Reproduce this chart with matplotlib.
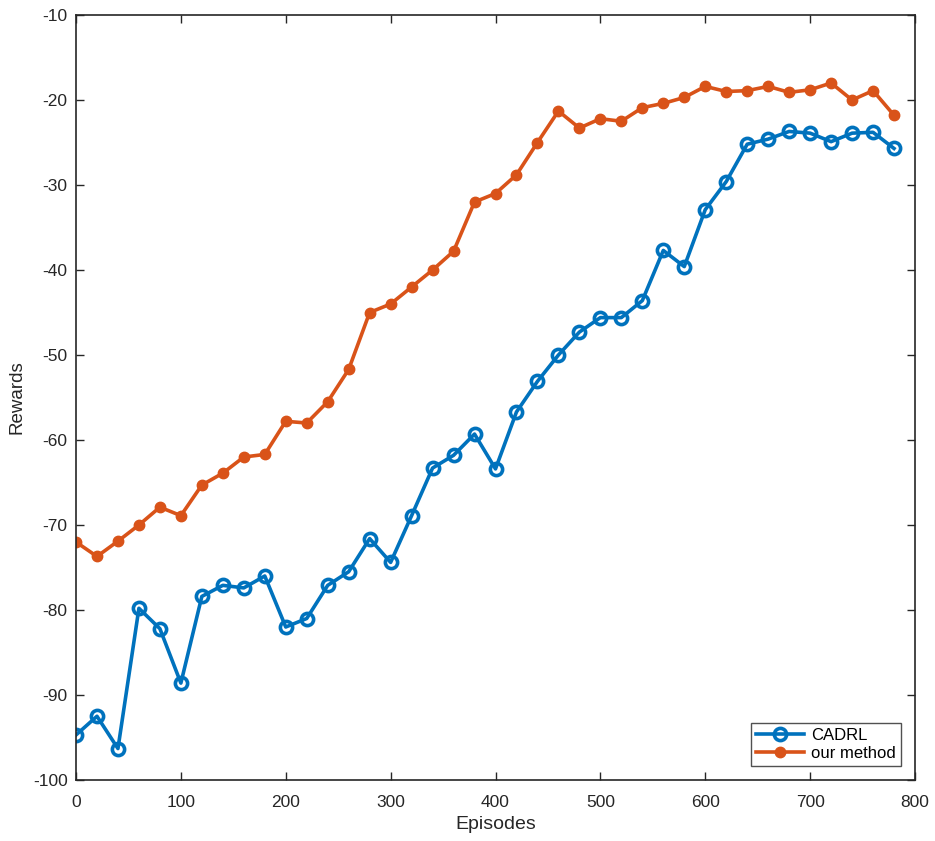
import numpy as np
import matplotlib
matplotlib.use('Agg')
from matplotlib import pyplot as plt

episodes = list(range(0, 800, 20))
cadrl = [-94.7, -92.5, -96.3, -79.8, -82.2, -88.6, -78.4, -77.1, -77.4, -76.0,
         -82.0, -81.0, -77.1, -75.5, -71.6, -74.4, -68.9, -63.3, -61.8, -59.3,
         -63.4, -56.7, -53.1, -50.0, -47.3, -45.6, -45.6, -43.6, -37.7, -39.6,
         -32.9, -29.6, -25.2, -24.6, -23.7, -23.9, -24.9, -23.9, -23.8, -25.7]
ours = [-72.0, -73.7, -71.9, -70.0, -67.9, -68.9, -65.3, -63.9, -62.0, -61.7,
        -57.8, -58.0, -55.5, -51.7, -45.0, -44.0, -42.0, -40.0, -37.8, -32.0,
        -31.0, -28.8, -25.0, -21.3, -23.3, -22.2, -22.5, -20.9, -20.4, -19.7,
        -18.4, -19.0, -18.9, -18.4, -19.1, -18.8, -18.0, -20.0, -18.9, -21.8]

plt.rcParams['font.family'] = ['Arial', 'Liberation Sans', 'DejaVu Sans']
plt.rcParams['axes.unicode_minus'] = False
axcol = '#262626'

fig = plt.figure(figsize=(9.35, 8.41), dpi=100)
ax = fig.add_axes([76/935, 1-780/841, 839/935, 765/841])

ax.plot(episodes, cadrl, color='#0072BD', lw=2.6, marker='o', ms=8.8,
        mfc='none', mec='#0072BD', mew=2.6, label='CADRL')
ax.plot(episodes, ours, color='#D95319', lw=2.6, marker='o', ms=7.5,
        mfc='#D95319', mec='#D95319', label='our method')

ax.set_xlim(0, 800)
ax.set_ylim(-100, -10)
ax.set_xticks(range(0, 801, 100))
ax.set_yticks(range(-100, -9, 10))
ax.tick_params(direction='in', length=6, width=1, colors=axcol, labelsize=12.5,
               top=True, right=True, pad=6)
ax.tick_params(axis='x', pad=11)
for s in ax.spines.values():
    s.set_color(axcol)
    s.set_linewidth(1.2)
ax.set_xlabel('Episodes', fontsize=14, color=axcol, labelpad=4)
ax.set_ylabel('Rewards', fontsize=13.5, color=axcol, labelpad=5)

leg = ax.legend(loc='lower right', bbox_to_anchor=(0.983, 0.018), fontsize=12,
                frameon=True, fancybox=False, borderpad=0.3, handlelength=2.9,
                labelspacing=0.2, handletextpad=0.4, borderaxespad=0)
leg.get_frame().set_edgecolor(axcol)
leg.get_frame().set_linewidth(1)

fig.savefig('out.png', dpi=100)
